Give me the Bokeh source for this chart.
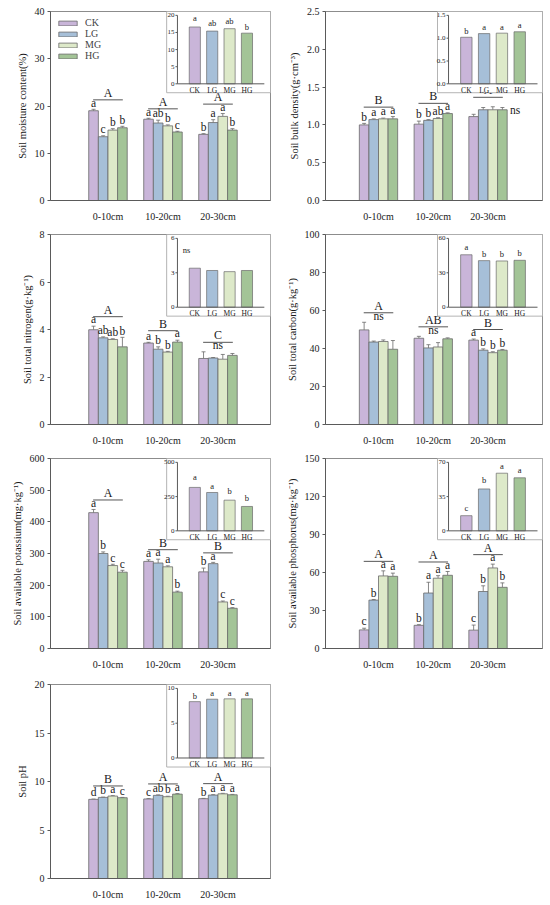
import numpy as np
from bokeh.plotting import figure
from bokeh.models import Range1d, FixedTicker, ColumnDataSource, Whisker, TeeHead, NumeralTickFormatter
from bokeh.layouts import column, row
from bokeh.embed import file_html
from bokeh.resources import INLINE
from bokeh.core.properties import value

treatments = ["CK", "LG", "MG", "HG"]
depths = ["0-10cm", "10-20cm", "20-30cm"]
colors = ["#C9B5D9", "#A6BFD8", "#DDE9C9", "#A3C497"]

# ---------- Panel 1: soil moisture ----------
moist_vals = [[19.0, 17.2, 14.0], [13.5, 16.4, 16.5], [14.9, 15.8, 17.8], [15.4, 14.5, 14.9]]
moist_errs = [[0.3, 0.2, 0.15], [0.2, 0.6, 0.6], [0.3, 0.2, 0.6], [0.3, 0.15, 0.3]]
moist_lets = [["a", "a", "b"], ["c", "ab", "a"], ["b", "b", "a"], ["b", "c", "b"]]
moist_group = ["A", "A", "A"]
moist_ns = [None, None, None]
moist_in_vals = [16.6, 15.4, 16.1, 14.8]
moist_in_errs = [0.9, 0.7, 0.5, 0.2]
moist_in_lets = ["a", "ab", "ab", "b"]
moist_in_ticks = [0, 5, 10, 15, 20]

# ---------- Panel 2: bulk density ----------
bd_vals = [[1.00, 1.01, 1.11], [1.07, 1.06, 1.20], [1.08, 1.085, 1.20], [1.08, 1.15, 1.20]]
bd_errs = [[0.02, 0.04, 0.03], [0.01, 0.01, 0.03], [0.01, 0.01, 0.04], [0.03, 0.01, 0.03]]
bd_lets = [["b", "b", ""], ["a", "b", ""], ["a", "ab", ""], ["a", "a", ""]]
bd_group = ["B", "B", "A"]
bd_ns = [None, None, "right"]
bd_in_vals = [1.02, 1.10, 1.11, 1.14]
bd_in_errs = [0.02, 0.03, 0.02, 0.02]
bd_in_lets = ["b", "a", "a", "a"]
bd_in_ticks = [0.0, 0.5, 1.0, 1.5]

# ---------- Panel 3: total nitrogen ----------
tn_vals = [[3.99, 3.43, 2.78], [3.65, 3.17, 2.80], [3.58, 3.05, 2.75], [3.27, 3.47, 2.91]]
tn_errs = [[0.15, 0.03, 0.28], [0.04, 0.10, 0.02], [0.03, 0.03, 0.20], [0.40, 0.08, 0.08]]
tn_lets = [["a", "a", ""], ["ab", "b", ""], ["ab", "b", ""], ["b", "a", ""]]
tn_group = ["A", "B", "C"]
tn_ns = [None, None, "center"]
tn_in_vals = [3.4, 3.2, 3.1, 3.2]
tn_in_errs = [0.2, 0.1, 0.12, 0.12]
tn_in_lets = ["", "", "", ""]
tn_in_ticks = [0, 3, 6]

# ---------- Panel 4: total carbon ----------
tc_vals = [[49.8, 45.4, 44.4], [43.4, 40.3, 39.1], [43.7, 40.8, 37.8], [39.6, 45.1, 39.1]]
tc_errs = [[4.0, 1.0, 0.6], [0.5, 1.7, 0.7], [0.8, 2.3, 0.5], [4.6, 0.5, 0.4]]
tc_lets = [["", "", "a"], ["", "", "b"], ["", "", "b"], ["", "", "b"]]
tc_group = ["A", "AB", "B"]
tc_ns = ["center", "center", None]
tc_in_vals = [45.7, 40.6, 40.3, 40.9]
tc_in_errs = [2.0, 0.8, 0.8, 1.2]
tc_in_lets = ["a", "b", "b", "b"]
tc_in_ticks = [0, 30, 60]

# ---------- Panel 5: available potassium ----------
ak_vals = [[429, 275, 242], [300, 270, 268], [262, 258, 147], [241, 178, 127]]
ak_errs = [[10, 5, 12], [5, 12, 4], [4, 3, 3], [6, 3, 2]]
ak_lets = [["a", "a", "b"], ["b", "a", "a"], ["c", "a", "c"], ["c", "b", "c"]]
ak_group = ["A", "B", "B"]
ak_ns = [None, None, None]
ak_in_vals = [317, 280, 224, 178]
ak_in_errs = [35, 8, 22, 18]
ak_in_lets = ["a", "a", "b", "b"]
ak_in_ticks = [0, 250, 500]

# ---------- Panel 6: available phosphorus ----------
ap_vals = [[14.7, 18.3, 14.5], [38.2, 43.8, 45.0], [57.3, 55.5, 63.6], [57.0, 57.8, 48.3]]
ap_errs = [[1.3, 0.5, 4.0], [0.5, 8.5, 4.5], [4.0, 2.0, 3.0], [2.5, 3.0, 3.5]]
ap_lets = [["c", "b", "c"], ["b", "a", "b"], ["a", "a", "a"], ["a", "a", "b"]]
ap_group = ["A", "A", "A"]
ap_ns = [None, None, None]
ap_in_vals = [15.5, 42.8, 58.9, 54.2]
ap_in_errs = [2.0, 3.0, 2.0, 2.5]
ap_in_lets = ["c", "b", "a", "a"]
ap_in_ticks = [0, 35, 70]

# ---------- Panel 7: pH ----------
ph_vals = [[8.16, 8.20, 8.23], [8.36, 8.57, 8.60], [8.50, 8.43, 8.73], [8.33, 8.70, 8.63]]
ph_errs = [[0.03, 0.03, 0.03], [0.03, 0.05, 0.04], [0.04, 0.05, 0.05], [0.03, 0.05, 0.04]]
ph_lets = [["d", "c", "b"], ["b", "ab", "a"], ["a", "b", "a"], ["c", "a", "a"]]
ph_group = ["B", "A", "A"]
ph_ns = [None, None, None]
ph_in_vals = [8.1, 8.45, 8.5, 8.5]
ph_in_errs = [0.05, 0.05, 0.05, 0.05]
ph_in_lets = ["b", "a", "a", "a"]
ph_in_ticks = [0, 5, 10]

FONT = "Liberation Serif"
EDGE = "#6a6a6a"
AXC = "#5a5a5a"
TXT = "#1a1a1a"
BW = 0.175
OFF = [(-1.5 + i) * BW for i in range(4)]

# figure height, top border, bottom border for each row of panels
ROWS = [(224, 11, 17), (224, 10, 18), (224, 10, 17), (230, 12, 20)]
# per column: x range, left border, right border, inset x-axis start/end (frame fractions)
COLS = [((-0.045, 3.955), 50, 5, 0.577, 0.972), ((0.032, 3.995), 50, 8, 0.567, 0.977)]


def style_axis(ax, size, label_size=None):
    ax.major_label_text_font = FONT
    ax.major_label_text_font_size = size
    ax.major_label_text_color = TXT
    ax.axis_line_color = AXC
    ax.major_tick_line_color = AXC
    ax.minor_tick_line_color = None
    if label_size:
        ax.axis_label_text_font = FONT
        ax.axis_label_text_font_size = label_size
        ax.axis_label_text_font_style = "normal"
        ax.axis_label_text_color = TXT


def panel(ylabel, ymax, ystep, vals, errs, lets, glets, ns_mode,
          ivals, ierrs, ilets, iticks, col, rowi, legend=False, inset_ns=False,
          fmt="0", ifmt="{:g}"):
    (xa, xb), bl, br, fx0, fx1 = COLS[col]
    H, bt, bb = ROWS[rowi]
    fh = H - bt - bb
    p = figure(width=275, height=H, x_range=Range1d(xa, xb), y_range=Range1d(0, ymax),
               output_backend="svg", toolbar_location=None,
               min_border_left=bl, min_border_right=br, min_border_top=bt, min_border_bottom=bb)
    p.grid.visible = False
    p.outline_line_color = "#8c8c8c"
    p.background_fill_color = "white"

    iymax = iticks[-1]
    fy0 = 1.0 - 75.0 / fh
    fy1 = 1.0 - 4.0 / fh
    xspan = 5.0 / (fx1 - fx0)
    xs0 = -fx0 * xspan
    yspan = iymax / (fy1 - fy0)
    ys0 = -fy0 * yspan
    p.extra_x_ranges = {"ix": Range1d(xs0, xs0 + xspan)}
    p.extra_y_ranges = {"iy": Range1d(ys0, ys0 + yspan)}

    # main bars
    lx, ly, lt = [], [], []
    for i, t in enumerate(treatments):
        xs = [g + 1 + OFF[i] for g in range(len(depths))]
        ups = [v + e for v, e in zip(vals[i], errs[i])]
        src = ColumnDataSource(dict(x=xs, top=vals[i], lo=vals[i], up=ups))
        kw = dict(legend_label=t) if legend else {}
        p.vbar(x="x", top="top", width=BW, source=src, fill_color=colors[i],
               line_color=EDGE, line_width=0.8, **kw)
        p.add_layout(Whisker(source=src, base="x", upper="up", lower="lo", dimension="height",
                             line_color=EDGE, line_width=0.8,
                             upper_head=TeeHead(size=4, line_color=EDGE, line_width=0.8),
                             lower_head=None))
        for g in range(len(depths)):
            if lets[i][g]:
                lx.append(xs[g]); ly.append(ups[g] + 0.004 * ymax); lt.append(lets[i][g])
    p.text(x=lx, y=ly, text=lt, text_font=value(FONT), text_font_size=value("11.5px"),
           text_align="center", text_baseline="bottom", text_color=TXT)

    # group lines and letters
    gx0, gx1, gy, gtx, gty, gt = [], [], [], [], [], []
    for g in range(len(depths)):
        c = g + 1
        top_max = max(vals[i][g] + errs[i][g] for i in range(4))
        bar_max = max(vals[i][g] for i in range(4))
        yline = top_max + 0.05 * ymax
        gx0.append(c - 0.27); gx1.append(c + 0.27); gy.append(yline)
        gtx.append(c); gty.append(yline); gt.append(glets[g])
        if ns_mode[g] == "center":
            p.text(x=[c], y=[top_max + 0.004 * ymax], text=["ns"], text_font=value(FONT),
                   text_font_size=value("11.5px"), text_align="center", text_baseline="bottom",
                   text_color=TXT)
        elif ns_mode[g] == "right":
            p.text(x=[c + 0.4], y=[bar_max], text=["ns"], text_font=value(FONT),
                   text_font_size=value("11.5px"), text_align="left", text_baseline="middle",
                   text_color=TXT)
    p.segment(x0=gx0, x1=gx1, y0=gy, y1=gy, line_color="#555555", line_width=1)
    p.text(x=gtx, y=gty, text=gt, text_font=value(FONT), text_font_size=value("12px"),
           text_align="center", text_baseline="bottom", text_color=TXT)

    # inset
    rx = p.extra_x_ranges["ix"]
    ry = p.extra_y_ranges["iy"]
    R = dict(x_range_name="ix", y_range_name="iy")
    p.quad(left=[-0.62], right=[rx.end], bottom=[-0.13 * iymax], top=[ry.end],
           fill_color="white", line_color="#b4b4b4", line_width=1, **R)
    ix = [1, 2, 3, 4]
    iups = [v + e for v, e in zip(ivals, ierrs)]
    isrc = ColumnDataSource(dict(x=ix, top=ivals, lo=ivals, up=iups, c=colors))
    p.vbar(x="x", top="top", width=0.64, source=isrc, fill_color="c", line_color=EDGE,
           line_width=0.7, **R)
    p.add_layout(Whisker(source=isrc, base="x", upper="up", lower="lo", dimension="height",
                         line_color=EDGE, line_width=0.7, x_range_name="ix", y_range_name="iy",
                         upper_head=TeeHead(size=3, line_color=EDGE, line_width=0.7),
                         lower_head=None))
    tx = [ix[k] for k in range(4) if ilets[k]]
    ty = [iups[k] + 0.01 * iymax for k in range(4) if ilets[k]]
    tt = [ilets[k] for k in range(4) if ilets[k]]
    p.text(x=tx, y=ty, text=tt, text_font=value(FONT), text_font_size=value("8.5px"),
           text_align="center", text_baseline="bottom", text_color=TXT, **R)
    if inset_ns:
        p.text(x=[0.3], y=[0.83 * iymax], text=["ns"], text_font=value(FONT),
               text_font_size=value("8.5px"), text_align="left", text_baseline="middle",
               text_color=TXT, **R)
    # inset axes drawn in the inset's own data space
    p.segment(x0=[0, 0], x1=[0, 5], y0=[0, 0], y1=[iymax, 0], line_color=AXC, line_width=1, **R)
    nt = len(iticks)
    p.ray(x=[0] * nt, y=iticks, length=2, length_units="screen", angle=np.pi,
          line_color=AXC, line_width=1, **R)
    p.text(x=[0] * nt, y=iticks, text=[ifmt.format(t) for t in iticks], x_offset=-3,
           text_font=value(FONT), text_font_size=value("7px"), text_align="right",
           text_baseline="middle", text_color=TXT, **R)
    p.text(x=ix, y=[0] * 4, text=treatments, y_offset=2,
           text_font=value(FONT), text_font_size=value("7.5px"), text_align="center",
           text_baseline="top", text_color=TXT, **R)

    # main axes
    yt = [float(v) for v in np.round(np.arange(0, ymax + ystep / 2, ystep), 6)]
    p.yaxis[0].ticker = FixedTicker(ticks=yt)
    p.yaxis[0].formatter = NumeralTickFormatter(format=fmt)
    p.yaxis[0].axis_label = ylabel
    p.yaxis[0].major_tick_out = 3
    p.yaxis[0].major_tick_in = 0
    p.yaxis[0].major_label_standoff = 3
    p.yaxis[0].axis_label_standoff = 4
    style_axis(p.yaxis[0], "10px", "10.5px")
    p.xaxis[0].ticker = FixedTicker(ticks=[1, 2, 3])
    p.xaxis[0].major_label_overrides = {g + 1: depths[g] for g in range(3)}
    p.xaxis[0].major_label_standoff = 4
    style_axis(p.xaxis[0], "10px")
    p.xaxis[0].major_tick_line_color = None

    if legend:
        lg = p.legend[0]
        lg.location = "top_left"
        lg.background_fill_alpha = 0
        lg.border_line_alpha = 0
        lg.label_text_font = FONT
        lg.label_text_font_size = "10px"
        lg.glyph_width = 23
        lg.glyph_height = 6
        lg.label_height = 8
        lg.spacing = -3
        lg.padding = 2
        lg.margin = 4
        lg.label_standoff = 6
    return p


p1 = panel("Soil moisture content(%)", 40, 10, moist_vals, moist_errs, moist_lets, moist_group,
           moist_ns, moist_in_vals, moist_in_errs, moist_in_lets, moist_in_ticks, 0, 0, legend=True)
p2 = panel("Soil bulk density(g·cm⁻³)", 2.5, 0.5, bd_vals, bd_errs, bd_lets, bd_group,
           bd_ns, bd_in_vals, bd_in_errs, bd_in_lets, bd_in_ticks, 1, 0, fmt="0.0", ifmt="{:.1f}")
p3 = panel("Soil total nitrogen(g·kg⁻¹)", 8, 2, tn_vals, tn_errs, tn_lets, tn_group,
           tn_ns, tn_in_vals, tn_in_errs, tn_in_lets, tn_in_ticks, 0, 1, inset_ns=True)
p4 = panel("Soil total carbon(g·kg⁻¹)", 100, 20, tc_vals, tc_errs, tc_lets, tc_group,
           tc_ns, tc_in_vals, tc_in_errs, tc_in_lets, tc_in_ticks, 1, 1)
p5 = panel("Soil available potassium(mg·kg⁻¹)", 600, 100, ak_vals, ak_errs, ak_lets, ak_group,
           ak_ns, ak_in_vals, ak_in_errs, ak_in_lets, ak_in_ticks, 0, 2)
p6 = panel("Soil available phosphorus(mg·kg⁻¹)", 150, 30, ap_vals, ap_errs, ap_lets, ap_group,
           ap_ns, ap_in_vals, ap_in_errs, ap_in_lets, ap_in_ticks, 1, 2)
p7 = panel("Soil pH", 20, 5, ph_vals, ph_errs, ph_lets, ph_group,
           ph_ns, ph_in_vals, ph_in_errs, ph_in_lets, ph_in_ticks, 0, 3)

layout = column(row(p1, p2), row(p3, p4), row(p5, p6), row(p7))
open("out.html", "w").write(file_html(layout, INLINE))
